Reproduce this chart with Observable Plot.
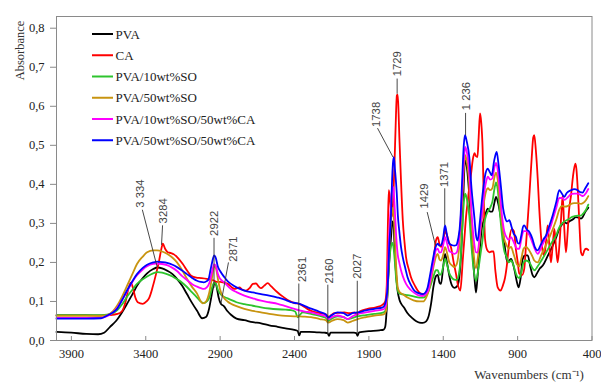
<!DOCTYPE html>
<html><head><meta charset="utf-8">
<script src="https://cdn.jsdelivr.net/npm/d3@7"></script>
<script src="https://cdn.jsdelivr.net/npm/@observablehq/plot@0.6"></script>
<style>html,body{margin:0;padding:0;background:#fff}</style>
</head><body><div id="chart"></div>
<script>
const seriesNames = ["PVA","CA","PVA/10wt%SO","PVA/50wt%SO","PVA/10wt%SO/50wt%CA","PVA/50wt%SO/50wt%CA"];
const seriesColors = ["#000000","#ff0000","#2ec42e","#c89410","#ff00ff","#0000ff"];

// [wavenumber, absorbance]
const PVA = [[4000,0.022],[3900,0.02],[3800,0.017],[3720,0.016],[3680,0.02],[3640,0.035],[3600,0.05],[3560,0.072],[3526,0.094],[3490,0.118],[3459,0.14],[3420,0.16],[3391,0.172],[3350,0.183],[3320,0.187],[3290,0.185],[3257,0.179],[3220,0.17],[3190,0.158],[3155,0.14],[3123,0.119],[3090,0.097],[3055,0.076],[3021,0.057],[2995,0.06],[2975,0.08],[2960,0.11],[2945,0.14],[2935,0.148],[2925,0.14],[2910,0.11],[2895,0.094],[2875,0.088],[2850,0.075],[2827,0.066],[2790,0.056],[2737,0.052],[2680,0.047],[2625,0.044],[2570,0.039],[2513,0.035],[2460,0.031],[2401,0.027],[2378,0.024],[2368,0.013],[2358,0.022],[2300,0.022],[2250,0.021],[2200,0.02],[2178,0.019],[2168,0.012],[2158,0.02],[2100,0.02],[2050,0.02],[2000,0.02],[1985,0.019],[1976,0.012],[1966,0.021],[1900,0.024],[1830,0.026],[1800,0.028],[1790,0.035],[1780,0.08],[1770,0.16],[1760,0.22],[1750,0.27],[1742,0.305],[1735,0.3],[1725,0.22],[1715,0.16],[1706,0.125],[1695,0.105],[1684,0.095],[1665,0.085],[1640,0.07],[1610,0.058],[1584,0.05],[1560,0.046],[1538,0.045],[1515,0.049],[1500,0.06],[1482,0.094],[1465,0.14],[1449,0.165],[1437,0.168],[1425,0.148],[1415,0.145],[1400,0.19],[1388,0.222],[1375,0.2],[1359,0.165],[1340,0.14],[1326,0.135],[1305,0.14],[1290,0.17],[1275,0.26],[1265,0.37],[1254,0.462],[1240,0.44],[1225,0.372],[1210,0.28],[1202,0.226],[1190,0.16],[1180,0.123],[1170,0.16],[1158,0.218],[1140,0.29],[1124,0.312],[1101,0.338],[1085,0.33],[1070,0.33],[1055,0.355],[1045,0.368],[1030,0.35],[1012,0.312],[990,0.252],[975,0.21],[967,0.2],[955,0.205],[944,0.209],[930,0.195],[918,0.175],[905,0.15],[893,0.136],[880,0.16],[866,0.209],[850,0.218],[832,0.218],[815,0.19],[800,0.168],[788,0.162],[770,0.172],[750,0.185],[731,0.192],[700,0.215],[664,0.243],[640,0.265],[620,0.286],[600,0.298],[586,0.303],[570,0.3],[553,0.305],[530,0.31],[508,0.316],[490,0.315],[474,0.312],[460,0.318],[445,0.33],[425,0.34]];

const CA = [[4000,0.065],[3900,0.065],[3800,0.065],[3700,0.064],[3640,0.065],[3590,0.068],[3560,0.075],[3535,0.1],[3515,0.135],[3500,0.148],[3490,0.14],[3470,0.11],[3454,0.098],[3420,0.094],[3395,0.1],[3376,0.11],[3355,0.135],[3331,0.17],[3310,0.205],[3297,0.231],[3285,0.248],[3270,0.235],[3252,0.226],[3230,0.224],[3208,0.22],[3180,0.21],[3151,0.196],[3120,0.178],[3095,0.166],[3060,0.161],[3028,0.16],[2990,0.158],[2960,0.155],[2940,0.153],[2925,0.15],[2900,0.15],[2875,0.148],[2849,0.145],[2820,0.136],[2804,0.132],[2785,0.134],[2771,0.136],[2750,0.13],[2726,0.128],[2700,0.135],[2680,0.145],[2659,0.146],[2640,0.138],[2625,0.134],[2605,0.14],[2580,0.147],[2560,0.14],[2513,0.123],[2480,0.113],[2446,0.104],[2400,0.096],[2367,0.094],[2330,0.085],[2289,0.076],[2230,0.07],[2190,0.067],[2170,0.061],[2150,0.066],[2132,0.07],[2100,0.071],[2065,0.072],[2030,0.07],[1997,0.072],[1980,0.066],[1960,0.075],[1908,0.081],[1852,0.085],[1807,0.092],[1790,0.1],[1780,0.14],[1772,0.3],[1766,0.385],[1758,0.36],[1750,0.33],[1744,0.318],[1738,0.35],[1728,0.45],[1720,0.55],[1712,0.628],[1706,0.63],[1700,0.58],[1695,0.52],[1684,0.41],[1672,0.308],[1660,0.25],[1650,0.213],[1630,0.18],[1617,0.162],[1590,0.14],[1572,0.128],[1550,0.12],[1527,0.119],[1505,0.125],[1494,0.136],[1482,0.16],[1471,0.188],[1458,0.23],[1449,0.256],[1437,0.265],[1426,0.248],[1415,0.24],[1400,0.255],[1386,0.282],[1375,0.27],[1360,0.25],[1348,0.239],[1330,0.2],[1314,0.17],[1300,0.14],[1285,0.128],[1275,0.17],[1269,0.205],[1258,0.26],[1247,0.316],[1236,0.355],[1225,0.393],[1212,0.43],[1202,0.462],[1190,0.48],[1180,0.472],[1170,0.47],[1162,0.52],[1153,0.582],[1145,0.56],[1135,0.488],[1127,0.35],[1119,0.26],[1105,0.232],[1090,0.226],[1075,0.228],[1062,0.228],[1050,0.18],[1034,0.136],[1015,0.128],[1000,0.14],[985,0.16],[970,0.2],[955,0.26],[940,0.285],[925,0.28],[912,0.235],[899,0.2],[889,0.172],[870,0.168],[855,0.185],[844,0.243],[830,0.32],[821,0.372],[805,0.47],[795,0.52],[788,0.526],[778,0.49],[765,0.415],[755,0.34],[743,0.269],[730,0.225],[721,0.218],[710,0.25],[698,0.295],[688,0.25],[676,0.2],[665,0.24],[653,0.286],[642,0.24],[631,0.2],[620,0.24],[605,0.33],[597,0.372],[588,0.3],[575,0.226],[565,0.27],[555,0.33],[541,0.372],[528,0.42],[512,0.453],[505,0.44],[496,0.389],[485,0.3],[474,0.226],[463,0.218],[452,0.23],[440,0.235],[425,0.232]];

const SO10 = [[4000,0.065],[3900,0.065],[3800,0.065],[3700,0.065],[3660,0.066],[3620,0.07],[3593,0.077],[3560,0.092],[3526,0.112],[3490,0.13],[3459,0.145],[3420,0.157],[3391,0.164],[3350,0.172],[3320,0.175],[3290,0.174],[3257,0.17],[3220,0.164],[3190,0.157],[3155,0.148],[3123,0.137],[3090,0.124],[3055,0.11],[3030,0.1],[3010,0.096],[2990,0.1],[2970,0.112],[2955,0.135],[2940,0.148],[2928,0.145],[2915,0.13],[2900,0.12],[2880,0.113],[2850,0.108],[2827,0.104],[2790,0.098],[2737,0.093],[2680,0.089],[2625,0.085],[2570,0.082],[2513,0.08],[2460,0.079],[2423,0.078],[2395,0.074],[2378,0.059],[2365,0.065],[2345,0.072],[2289,0.068],[2230,0.063],[2190,0.058],[2173,0.05],[2150,0.056],[2110,0.062],[2070,0.06],[2043,0.055],[2010,0.058],[1975,0.062],[1920,0.065],[1863,0.068],[1800,0.072],[1785,0.08],[1775,0.12],[1765,0.19],[1752,0.24],[1742,0.25],[1735,0.24],[1725,0.2],[1715,0.15],[1706,0.128],[1695,0.12],[1670,0.118],[1640,0.116],[1600,0.113],[1560,0.11],[1535,0.11],[1515,0.115],[1500,0.125],[1482,0.145],[1465,0.165],[1449,0.18],[1437,0.18],[1425,0.168],[1415,0.17],[1400,0.19],[1388,0.209],[1375,0.195],[1359,0.172],[1340,0.16],[1326,0.156],[1310,0.155],[1295,0.17],[1285,0.2],[1270,0.3],[1260,0.36],[1252,0.376],[1240,0.36],[1225,0.32],[1210,0.24],[1195,0.18],[1180,0.153],[1165,0.18],[1150,0.22],[1135,0.26],[1124,0.3],[1110,0.322],[1100,0.33],[1085,0.34],[1070,0.355],[1055,0.39],[1045,0.405],[1035,0.39],[1020,0.33],[1005,0.27],[990,0.23],[975,0.215],[960,0.2],[944,0.205],[930,0.195],[918,0.18],[905,0.165],[889,0.16],[875,0.175],[860,0.2],[844,0.205],[821,0.2],[800,0.185],[788,0.18],[765,0.19],[740,0.205],[709,0.225],[680,0.245],[664,0.255],[640,0.27],[620,0.29],[600,0.3],[586,0.305],[560,0.31],[541,0.315],[520,0.318],[496,0.32],[474,0.32],[460,0.325],[440,0.335],[425,0.348]];

const SO50 = [[4000,0.063],[3900,0.063],[3800,0.063],[3700,0.063],[3660,0.065],[3620,0.075],[3593,0.089],[3560,0.112],[3526,0.14],[3490,0.17],[3459,0.196],[3420,0.215],[3391,0.226],[3350,0.231],[3324,0.231],[3290,0.228],[3257,0.222],[3220,0.212],[3190,0.2],[3155,0.18],[3123,0.158],[3090,0.138],[3055,0.12],[3030,0.1],[3017,0.095],[2995,0.1],[2975,0.12],[2955,0.16],[2940,0.19],[2928,0.185],[2915,0.158],[2900,0.13],[2876,0.11],[2850,0.1],[2827,0.094],[2790,0.088],[2737,0.081],[2680,0.076],[2625,0.072],[2570,0.068],[2513,0.065],[2460,0.063],[2401,0.062],[2367,0.062],[2330,0.061],[2289,0.06],[2230,0.055],[2190,0.052],[2173,0.046],[2150,0.05],[2110,0.055],[2070,0.052],[2043,0.046],[2010,0.05],[1975,0.055],[1920,0.06],[1863,0.064],[1800,0.067],[1785,0.075],[1775,0.13],[1765,0.22],[1752,0.3],[1742,0.34],[1735,0.33],[1725,0.26],[1715,0.18],[1706,0.136],[1695,0.125],[1670,0.118],[1640,0.11],[1600,0.103],[1560,0.1],[1535,0.1],[1515,0.11],[1500,0.125],[1482,0.155],[1465,0.19],[1449,0.215],[1437,0.222],[1425,0.207],[1415,0.205],[1400,0.22],[1388,0.239],[1375,0.225],[1359,0.2],[1340,0.192],[1326,0.188],[1310,0.195],[1295,0.23],[1285,0.28],[1270,0.38],[1260,0.45],[1252,0.475],[1240,0.455],[1225,0.4],[1210,0.3],[1195,0.22],[1180,0.185],[1165,0.22],[1150,0.28],[1135,0.33],[1124,0.36],[1110,0.385],[1100,0.39],[1085,0.385],[1070,0.39],[1055,0.42],[1045,0.43],[1035,0.415],[1020,0.36],[1005,0.3],[990,0.26],[975,0.245],[960,0.235],[944,0.24],[930,0.225],[918,0.21],[905,0.195],[889,0.19],[875,0.21],[860,0.235],[844,0.24],[821,0.23],[800,0.215],[788,0.205],[765,0.2],[740,0.22],[709,0.245],[680,0.27],[664,0.285],[640,0.31],[620,0.335],[600,0.345],[586,0.343],[560,0.345],[541,0.35],[520,0.352],[496,0.352],[474,0.35],[460,0.352],[440,0.36],[425,0.37]];

const SO10CA = [[4000,0.058],[3900,0.058],[3800,0.058],[3700,0.058],[3660,0.062],[3620,0.072],[3593,0.083],[3560,0.103],[3526,0.126],[3490,0.15],[3459,0.167],[3420,0.182],[3391,0.19],[3350,0.196],[3324,0.197],[3290,0.196],[3257,0.193],[3220,0.186],[3190,0.178],[3155,0.165],[3123,0.155],[3090,0.145],[3055,0.138],[3030,0.134],[3010,0.132],[2990,0.136],[2970,0.15],[2955,0.175],[2940,0.195],[2928,0.19],[2915,0.17],[2900,0.158],[2871,0.149],[2850,0.14],[2827,0.132],[2790,0.124],[2737,0.115],[2680,0.108],[2625,0.102],[2570,0.098],[2513,0.094],[2460,0.088],[2401,0.081],[2367,0.077],[2330,0.074],[2289,0.072],[2230,0.066],[2190,0.062],[2173,0.055],[2150,0.06],[2110,0.064],[2070,0.06],[2043,0.055],[2010,0.062],[1975,0.068],[1920,0.072],[1863,0.076],[1800,0.08],[1785,0.09],[1775,0.15],[1765,0.26],[1752,0.35],[1742,0.395],[1735,0.39],[1725,0.33],[1715,0.26],[1706,0.22],[1696,0.2],[1684,0.18],[1672,0.165],[1650,0.145],[1620,0.13],[1595,0.122],[1560,0.115],[1538,0.114],[1515,0.12],[1500,0.13],[1482,0.165],[1465,0.2],[1449,0.232],[1437,0.235],[1425,0.225],[1415,0.226],[1400,0.245],[1388,0.265],[1375,0.25],[1359,0.229],[1340,0.225],[1326,0.222],[1310,0.225],[1295,0.255],[1285,0.3],[1270,0.4],[1260,0.47],[1252,0.496],[1240,0.48],[1225,0.43],[1210,0.33],[1195,0.26],[1180,0.226],[1170,0.225],[1150,0.29],[1135,0.34],[1124,0.38],[1110,0.41],[1100,0.42],[1085,0.412],[1070,0.415],[1055,0.445],[1045,0.455],[1035,0.44],[1020,0.385],[1005,0.32],[990,0.28],[975,0.265],[960,0.258],[944,0.265],[930,0.255],[918,0.245],[905,0.235],[889,0.235],[875,0.26],[860,0.28],[844,0.28],[821,0.27],[800,0.25],[788,0.238],[765,0.222],[740,0.24],[709,0.265],[680,0.29],[664,0.31],[640,0.34],[620,0.365],[600,0.365],[586,0.36],[560,0.368],[541,0.375],[520,0.376],[496,0.376],[474,0.372],[460,0.37],[440,0.378],[425,0.388]];

const SO50CA = [[4000,0.056],[3900,0.056],[3800,0.056],[3700,0.057],[3660,0.064],[3620,0.072],[3593,0.081],[3560,0.103],[3526,0.128],[3490,0.152],[3459,0.17],[3420,0.186],[3391,0.194],[3350,0.2],[3324,0.202],[3290,0.201],[3257,0.199],[3220,0.194],[3190,0.188],[3155,0.179],[3123,0.17],[3090,0.161],[3055,0.153],[3030,0.15],[3010,0.149],[2990,0.152],[2977,0.158],[2965,0.18],[2954,0.2],[2940,0.218],[2928,0.21],[2916,0.19],[2900,0.178],[2871,0.162],[2850,0.152],[2827,0.145],[2790,0.136],[2737,0.128],[2680,0.123],[2625,0.119],[2570,0.115],[2513,0.11],[2460,0.104],[2423,0.098],[2390,0.096],[2367,0.094],[2340,0.09],[2311,0.085],[2260,0.078],[2222,0.072],[2190,0.067],[2173,0.059],[2150,0.065],[2110,0.072],[2070,0.07],[2043,0.064],[2010,0.07],[1975,0.072],[1920,0.077],[1863,0.081],[1807,0.085],[1790,0.095],[1774,0.136],[1762,0.25],[1751,0.325],[1745,0.4],[1738,0.455],[1732,0.47],[1725,0.44],[1713,0.38],[1705,0.32],[1696,0.282],[1684,0.24],[1672,0.213],[1655,0.185],[1640,0.162],[1617,0.142],[1595,0.128],[1570,0.122],[1538,0.119],[1520,0.123],[1505,0.136],[1490,0.165],[1471,0.205],[1455,0.235],[1445,0.245],[1437,0.248],[1425,0.243],[1415,0.244],[1400,0.265],[1388,0.295],[1375,0.27],[1359,0.248],[1340,0.244],[1326,0.243],[1314,0.244],[1300,0.26],[1285,0.308],[1272,0.42],[1262,0.5],[1254,0.526],[1242,0.51],[1225,0.47],[1210,0.39],[1191,0.316],[1180,0.27],[1169,0.256],[1155,0.3],[1135,0.376],[1120,0.42],[1101,0.44],[1085,0.43],[1074,0.423],[1058,0.46],[1041,0.483],[1028,0.45],[1012,0.393],[998,0.34],[985,0.316],[970,0.305],[956,0.308],[940,0.29],[927,0.274],[911,0.265],[900,0.25],[889,0.248],[875,0.27],[862,0.293],[855,0.295],[840,0.285],[821,0.278],[800,0.26],[785,0.24],[765,0.231],[745,0.245],[725,0.26],[709,0.269],[690,0.29],[664,0.321],[640,0.355],[620,0.385],[605,0.378],[586,0.368],[570,0.378],[541,0.385],[520,0.388],[496,0.385],[480,0.38],[463,0.379],[445,0.39],[425,0.403]];

const allSeries = [PVA, CA, SO10, SO50, SO10CA, SO50CA];

const xTicks = [3900,3400,2900,2400,1900,1400,900,400];
const yTicks = [0,0.1,0.2,0.3,0.4,0.5,0.6,0.7,0.8];
const yTickLabels = ["0,0","0,1","0,2","0,3","0,4","0,5","0,6","0,7","0,8"];

// annotation labels: text anchor (tx, ty = bottom of rotated text) and leader line
const annLabels = ["3 334","3284","2922","2871","2361","2160","2027","1738","1729","1429","1371","1 236"];
const annTextX  = [3439,3284,2938,2813,2346,2167,1978,1850,1710,1525,1390,1245];
const annTextY  = [0.34,0.30,0.268,0.202,0.15,0.146,0.158,0.547,0.677,0.338,0.393,0.59];
const annLineX1 = [3423,3287,2941,2844,2371,2176,1978,1842,1710,1508,1390,1250];
const annLineY1 = [0.335,0.295,0.263,0.2,0.146,0.143,0.153,0.544,0.671,0.329,0.39,0.583];
const annLineX2 = [3323,3294,2941,2895,2371,2176,1978,1738,1710,1452,1390,1250];
const annLineY2 = [0.188,0.245,0.135,0.094,0.021,0.017,0.017,0.47,0.632,0.243,0.295,0.526];

const rows = [];
allSeries.forEach((s, i) => s.forEach(([wn, a]) => rows.push({series: seriesNames[i], wn, a})));
const annotations = annLabels.map((label, i) => ({
  label, tx: annTextX[i], ty: annTextY[i],
  x1: annLineX1[i], y1: annLineY1[i], x2: annLineX2[i], y2: annLineY2[i]
}));

const serif = "'Liberation Serif', 'Times New Roman', serif";

const svg = Plot.plot({
  width: 601, height: 383,
  marginLeft: 56, marginRight: 9.5, marginTop: 16, marginBottom: 43,
  x: {domain: [4000, 400]},
  y: {domain: [0, 0.83]},
  color: {domain: seriesNames, range: seriesColors},
  style: {fontFamily: serif, fontSize: "12.5px", color: "#222", background: "#fff"},
  marks: [
    Plot.line(rows, {x: "wn", y: "a", z: "series", stroke: "series", strokeWidth: 1.8, curve: "monotone-x"}),
    Plot.frame({stroke: "#8a8a8a", strokeWidth: 1}),
    Plot.axisX({ticks: xTicks, tickSize: -4, tickPadding: 13, tickFormat: d => String(d), label: null, stroke: "#8a8a8a", fill: "#222"}),
    Plot.axisY({ticks: yTicks, tickSize: 6, tickPadding: 6, label: null, stroke: "#8a8a8a", fill: "#222",
      tickFormat: d => yTickLabels[yTicks.findIndex(t => Math.abs(t - d) < 1e-9)]}),
    Plot.link(annotations, {x1: "x1", y1: "y1", x2: "x2", y2: "y2", stroke: "#333", strokeWidth: 0.9}),
    Plot.text(annotations, {x: "tx", y: "ty", text: "label", rotate: -90, textAnchor: "start",
      fontFamily: "'Liberation Sans', Arial, sans-serif", fontSize: 11.3, fill: "#444"}),
    Plot.text(["Absorbance"], {frameAnchor: "top-left", dx: -41, dy: 34, rotate: -90, textAnchor: "middle", fontSize: 12.5, fill: "#333"}),
    Plot.text(["Wavenumbers (cm\u207B\u00B9)"], {frameAnchor: "bottom-right", dx: -63, dy: 38, textAnchor: "middle", fontSize: 13, fill: "#333"})
  ]
});

// legend inside the plot area (top-left)
const legend = d3.select(svg).append("g").attr("font-family", serif).attr("font-size", 13).attr("text-anchor", "start");
seriesNames.forEach((name, i) => {
  const y = 34 + i * 21.25;
  legend.append("line").attr("x1", 92).attr("x2", 113).attr("y1", y).attr("y2", y)
    .attr("stroke", seriesColors[i]).attr("stroke-width", 2);
  legend.append("text").attr("x", 115.5).attr("y", y).attr("dy", "0.35em").attr("fill", "#222").text(name);
});

document.getElementById("chart").append(svg);
</script>
</body></html>
